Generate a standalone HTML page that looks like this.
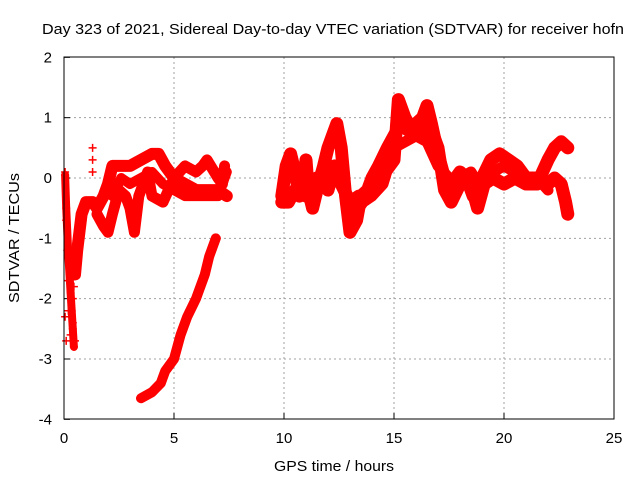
<!DOCTYPE html>
<html><head><meta charset="utf-8"><style>
body{margin:0;background:#fff}
svg{display:block;font-family:"Liberation Sans",sans-serif}
</style></head><body>
<svg id="c" width="640" height="480">
<text x="42" y="34" font-size="15" textLength="582" lengthAdjust="spacingAndGlyphs" fill="#000">Day 323 of 2021, Sidereal Day-to-day VTEC variation (SDTVAR) for receiver hofn</text>
<g id="grid"></g>
<g id="ticks"></g>
<g id="marks"></g>
<rect x="64" y="57" width="550" height="362" fill="none" stroke="#000" stroke-width="1"/>
<text x="334" y="471" font-size="15" text-anchor="middle" textLength="120" lengthAdjust="spacingAndGlyphs">GPS time / hours</text>
<text transform="translate(19,238) rotate(-90)" font-size="15" text-anchor="middle" textLength="130" lengthAdjust="spacingAndGlyphs">SDTVAR / TECUs</text>
</svg>
<script>
const xTicks=[0,5,10,15,20,25];
const yTicks=[2,1,0,-1,-2,-3,-4];
const trackEarly=[[0.05,0.1],[0.1,-0.7],[0.15,-1.2],[0.2,-2.2],[0.3,-2.6],[0.4,-2.4],[0.45,-1.8],[0.5,-2.7],[0.2,-1.7],[0.35,-2.2],[0.1,-2.7],[0.05,-2.3],[0.4,-2.0],[0.3,-1.4]];
const trackEarlyBand=[[0.05,0.05],[0.1,-0.5],[0.2,-1.3],[0.3,-1.9],[0.4,-2.5],[0.45,-2.8]];
const trackA=[[0.5,-1.6],[0.6,-1.2],[0.7,-0.9],[0.8,-0.6],[1.0,-0.4],[1.3,-0.4],[1.5,-0.5],[1.8,-0.3],[2.0,-0.1],[2.2,0.2],[2.5,0.2],[3.0,0.2],[3.5,0.3],[4.0,0.4],[4.3,0.4],[4.6,0.2],[5.0,0.0],[5.5,-0.1],[6.0,-0.2],[6.5,-0.2],[7.0,-0.2],[7.4,-0.3]];
const trackB=[[1.5,-0.6],[1.8,-0.8],[2.0,-0.9],[2.2,-0.6],[2.5,-0.2],[2.8,-0.3],[3.0,-0.5],[3.2,-0.9],[3.4,-0.3],[3.6,-0.1],[3.8,0.1],[4.0,-0.3],[4.5,-0.4],[5.0,0.0],[5.5,0.2],[6.0,0.1],[6.3,0.2],[6.5,0.3],[7.0,0.0],[7.2,-0.1],[7.3,0.2]];
const trackE=[[2.2,-0.3],[2.6,0.0],[3.0,-0.1],[3.5,0.0],[4.0,0.1],[4.5,-0.1],[5.0,-0.2],[5.5,-0.3],[6.0,-0.3],[6.5,-0.3],[7.0,-0.3],[7.4,0.1]];
const trackDecline=[[3.5,-3.65],[4.0,-3.55],[4.4,-3.4],[4.6,-3.2],[5.0,-3.0],[5.3,-2.6],[5.6,-2.3],[6.0,-2.0],[6.4,-1.6],[6.6,-1.3],[6.9,-1.0]];
const trackOut=[[1.3,0.5],[1.3,0.3],[1.3,0.1]];
const trackC=[[9.9,-0.3],[10.1,0.2],[10.3,0.4],[10.5,0.1],[10.7,-0.3],[10.9,0.0],[11.0,0.3],[11.1,-0.2],[11.3,-0.5],[11.5,-0.2],[11.8,0.2],[12.0,0.5],[12.2,0.7],[12.4,0.9],[12.6,0.5],[12.8,-0.3],[13.0,-0.9],[13.3,-0.7],[13.5,-0.3],[13.8,-0.2],[14.0,0.0],[14.3,0.2],[14.7,0.5],[15.0,0.7],[15.3,0.9],[15.6,0.8],[16.0,0.9],[16.3,1.0],[16.5,1.2],[16.7,0.9],[17.0,0.4],[17.3,0.0],[17.6,-0.1],[18.0,0.1],[18.3,0.0],[18.6,-0.3],[19.0,0.0],[19.4,0.3],[19.8,0.4],[20.2,0.3],[20.6,0.2],[21.0,0.0],[21.4,0.0],[21.8,-0.1],[22.0,-0.1],[22.3,0.0],[22.6,-0.1],[22.8,-0.4],[22.9,-0.6]];
const trackD=[[9.9,-0.4],[10.2,-0.4],[10.5,-0.2],[11.0,-0.3],[11.5,0.0],[12.0,-0.2],[12.3,0.2],[12.6,-0.1],[13.0,-0.4],[13.4,-0.3],[13.8,-0.3],[14.2,-0.1],[14.6,0.1],[15.0,0.3],[15.2,1.3],[15.5,1.0],[15.8,0.8],[16.2,0.7],[16.6,0.9],[17.0,0.5],[17.3,-0.2],[17.6,-0.4],[18.0,-0.1],[18.5,-0.1],[18.8,-0.5],[19.1,-0.1],[19.5,0.0],[20.0,-0.1],[20.5,0.0],[21.0,-0.1],[21.5,-0.1],[22.0,0.3],[22.3,0.5],[22.6,0.6],[22.9,0.5]];
const trackF=[[13.2,-0.6],[13.6,-0.4],[14.0,-0.3],[14.5,-0.1],[15.0,0.5],[15.5,0.6],[16.0,0.7],[16.5,0.6],[17.0,0.2],[17.5,0.0],[18.0,0.0],[18.5,0.1],[19.0,-0.2],[19.5,0.1],[20.0,0.2],[20.5,0.1],[21.0,0.0],[21.5,0.0],[22.0,-0.2]];

const NS='http://www.w3.org/2000/svg';
const X=t=>64+t*22, Y=v=>178-v*60.333;
function mk(tag,attrs,parent){const e=document.createElementNS(NS,tag);for(const k in attrs)e.setAttribute(k,attrs[k]);parent.appendChild(e);return e;}
const grid=document.getElementById('grid'),ticks=document.getElementById('ticks'),marks=document.getElementById('marks');
xTicks.forEach(t=>{
  if(t>0&&t<25){const l=mk('line',{x1:X(t),x2:X(t),y1:57,y2:419,stroke:'#a0a0a0','stroke-dasharray':'2,3'},grid);
  
  }
  const tk=mk('line',{x1:X(t),x2:X(t),y1:419,y2:413,stroke:'#000'},ticks);
  
  
  const tx=mk('text',{x:X(t),y:443,'font-size':15,'text-anchor':'middle'},ticks);
  tx.textContent=t;
  
  
});
yTicks.forEach(v=>{
  if(v<2&&v>-4){const l=mk('line',{x1:64,x2:614,y1:Y(v),y2:Y(v),stroke:'#a0a0a0','stroke-dasharray':'2,3'},grid);
  
  }
  const tk=mk('line',{x1:64,x2:70,y1:Y(v),y2:Y(v),stroke:'#000'},ticks);
  
  
  const tx=mk('text',{x:52,y:Y(v)+5,'font-size':15,'text-anchor':'end'},ticks);
  tx.textContent=v;
  
  
});
function plus(t,v){const x=X(t),y=Y(v);
  const p=mk('path',{d:`M${x-4} ${y}H${x+4}M${x} ${y-4}V${y+4}`,stroke:'#ff0000','stroke-width':1.5,fill:'none'},marks);
  
  }
function track(arr,name,w){
  const pl=mk('polyline',{points:arr.map(p=>X(p[0])+','+Y(p[1])).join(' '),fill:'none',stroke:'#ff0000','stroke-width':w,'stroke-linejoin':'round','stroke-linecap':'round'},marks);
  
  
  arr.forEach(p=>plus(p[0],p[1]));
}
track(trackEarlyBand,'track-early-band',8);
track(trackA,'track-a',12);track(trackB,'track-b',11);track(trackE,'track-e',10);track(trackDecline,'track-decline',10);
track(trackC,'track-c',13);track(trackD,'track-d',13);track(trackF,'track-f',11);
trackEarly.forEach(p=>plus(p[0],p[1]));trackOut.forEach(p=>plus(p[0],p[1]));
</script>
</body></html>
